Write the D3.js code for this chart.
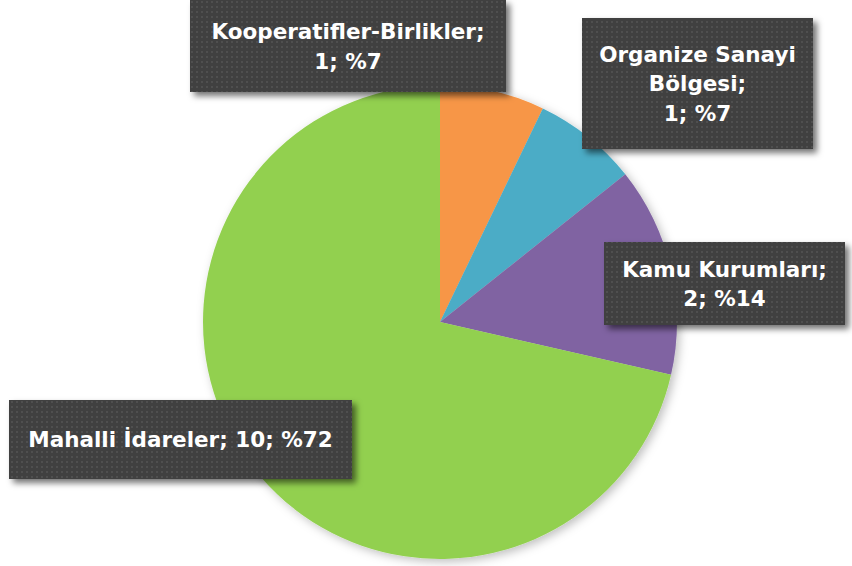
<!DOCTYPE html>
<html>
<head>
<meta charset="utf-8">
<script src="https://cdn.jsdelivr.net/npm/d3@7"></script>
<style>
  body { margin: 0; background: #fff; }
  svg { display: block; }
</style>
</head>
<body>
<div id="wrapper"></div>
<script>
// data
const categories = ["Kooperatifler-Birlikler", "Organize Sanayi Bölgesi", "Kamu Kurumları", "Mahalli İdareler"]
const values = [1, 1, 2, 10]
const percents = [7, 7, 14, 72]
const colors = ["#F79646", "#4BACC6", "#8064A2", "#92D050"]
// how each label is broken into lines
const labelLines = [
    ["Kooperatifler-Birlikler;", "1; %7"],
    ["Organize Sanayi", "Bölgesi;", "1; %7"],
    ["Kamu Kurumları;", "2; %14"],
    ["Mahalli İdareler; 10; %72"]
]

const dimensions = {
    width: 852,
    height: 566,
    cx: 440,
    cy: 322,
    radius: 237
}

// label box layout (moved by hand in the original)
const labelBoxes = [
    {x: 190, y: 0, w: 316, h: 92},
    {x: 582, y: 18, w: 231, h: 131},
    {x: 604, y: 242, w: 241, h: 83},
    {x: 9, y: 400, w: 343, h: 79}
]

const fontSize = 21.5
const lineStep = 29.5

const wrapper = d3.select("#wrapper")
    .append("svg")
    .attr("width", dimensions.width)
    .attr("height", dimensions.height)

const defs = wrapper.append("defs")

const dots = defs.append("pattern")
    .attr("id", "dots")
    .attr("width", 5)
    .attr("height", 5)
    .attr("patternUnits", "userSpaceOnUse")
dots.append("rect").attr("width", 5).attr("height", 5).attr("fill", "#3f3f3f")
dots.append("rect").attr("x", 1).attr("y", 1).attr("width", 2).attr("height", 2).attr("fill", "#4f4f4f")

defs.append("filter")
    .attr("id", "boxShadow")
    .attr("x", "-10%").attr("y", "-10%").attr("width", "130%").attr("height", "140%")
    .append("feDropShadow")
    .attr("dx", 4).attr("dy", 4).attr("stdDeviation", 3)
    .attr("flood-color", "#000").attr("flood-opacity", 0.55)

defs.append("filter")
    .attr("id", "pieShadow")
    .attr("x", "-10%").attr("y", "-10%").attr("width", "125%").attr("height", "125%")
    .append("feDropShadow")
    .attr("dx", 3).attr("dy", 3).attr("stdDeviation", 5)
    .attr("flood-color", "#000").attr("flood-opacity", 0.25)

const pieData = categories.map((c, i) => ({name: c, value: values[i], pct: percents[i], color: colors[i], i: i}))

const pie = d3.pie()
    .value(d => d.value)
    .sort(null)

const arc = d3.arc()
    .innerRadius(0)
    .outerRadius(dimensions.radius)

const bounds = wrapper.append("g")
    .attr("transform", `translate(${dimensions.cx}, ${dimensions.cy})`)
    .attr("filter", "url(#pieShadow)")

bounds.selectAll("path")
    .data(pie(pieData))
    .join("path")
    .attr("d", arc)
    .attr("fill", d => d.data.color)

// labels
const labels = wrapper.append("g")
    .selectAll("g")
    .data(pieData)
    .join("g")

labels.append("rect")
    .attr("x", d => labelBoxes[d.i].x)
    .attr("y", d => labelBoxes[d.i].y)
    .attr("width", d => labelBoxes[d.i].w)
    .attr("height", d => labelBoxes[d.i].h)
    .attr("fill", "url(#dots)")
    .attr("filter", "url(#boxShadow)")

labels.each(function(d) {
    const box = labelBoxes[d.i]
    const lines = labelLines[d.i]
    const midY = box.y + box.h / 2
    const firstY = midY - (lines.length - 1) * lineStep / 2 + fontSize * 0.37
    d3.select(this).selectAll("text")
        .data(lines)
        .join("text")
        .attr("x", box.x + box.w / 2)
        .attr("y", (l, j) => firstY + j * lineStep)
        .attr("text-anchor", "middle")
        .attr("fill", "#ffffff")
        .style("font-family", "'DejaVu Sans', Verdana, sans-serif")
        .style("font-weight", "bold")
        .style("font-size", fontSize + "px")
        .text(l => l)
})
</script>
</body>
</html>
